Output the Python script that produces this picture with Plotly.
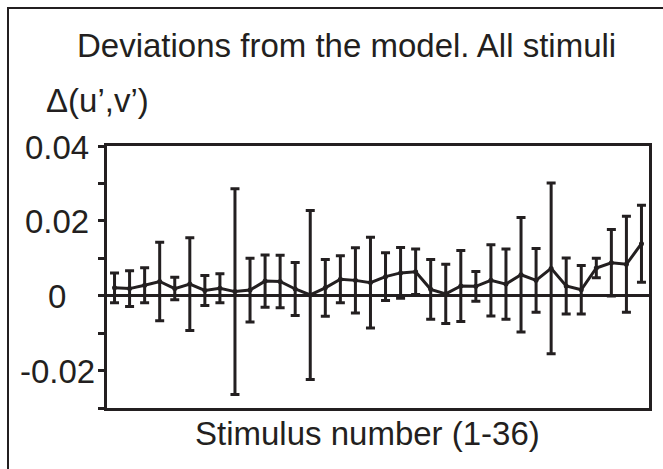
import plotly.graph_objects as go

stimulus = list(range(1, 37))
mean_dev = [0.0021, 0.0019, 0.0028, 0.0038, 0.0019, 0.0031, 0.0014, 0.0020, 0.0011, 0.0015,
            0.0039, 0.0038, 0.0018, 0.0002, 0.0021, 0.0044, 0.0041, 0.0035, 0.0051, 0.0061,
            0.0064, 0.0017, 0.0005, 0.0026, 0.0025, 0.0041, 0.0031, 0.0056, 0.0041, 0.0073,
            0.0026, 0.0016, 0.0074, 0.0088, 0.0084, 0.0139]
err_dev = [0.0040, 0.0048, 0.0047, 0.0105, 0.0030, 0.0124, 0.0040, 0.0039, 0.0275, 0.0085,
           0.0070, 0.0070, 0.0071, 0.0226, 0.0076, 0.0063, 0.0087, 0.0121, 0.0064, 0.0068,
           0.0061, 0.0080, 0.0079, 0.0095, 0.0040, 0.0095, 0.0094, 0.0153, 0.0085, 0.0228,
           0.0075, 0.0065, 0.0026, 0.0089, 0.0128, 0.0103]
ytick_vals = [-0.02, 0, 0.02, 0.04]
ytick_text = ["-0.02", "0", "0.02", "0.04"]

INK = "#231f20"
FONT = "Liberation Sans, Arial, sans-serif"
FS = 33

fig = go.Figure()
fig.add_trace(go.Scatter(
    x=stimulus, y=mean_dev, mode="lines+markers",
    line=dict(color=INK, width=3),
    marker=dict(color=INK, size=5),
    error_y=dict(type="data", array=err_dev, visible=True, color=INK, thickness=3, width=4.5),
    showlegend=False,
))

W, H = 663, 469
L, R, T, B = 107, 14, 146, 61
pw, ph = W - L - R, H - T - B

def px(x):
    return (x - L) / pw

def py(y):
    return (H - B - y) / ph

annotations = [
    dict(text="Deviations from the model. All stimuli", x=px(75), y=py(45),
         xref="paper", yref="paper", showarrow=False, xanchor="left", yanchor="middle",
         font=dict(size=FS, family=FONT, color=INK)),
    dict(text="\u0394(u\u2019,v\u2019)", x=px(44), y=py(100),
         xref="paper", yref="paper", showarrow=False, xanchor="left", yanchor="middle",
         font=dict(size=FS, family=FONT, color=INK)),
    dict(text="Stimulus number (1-36)", x=px(367), y=py(433),
         xref="paper", yref="paper", showarrow=False, xanchor="center", yanchor="middle",
         font=dict(size=FS, family=FONT, color=INK)),
]
for v, t in zip(ytick_vals, ytick_text):
    annotations.append(dict(text=t, x=px(57), y=v, xref="paper", yref="y",
                            showarrow=False, xanchor="center", yanchor="middle",
                            yshift=-1, font=dict(size=FS, family=FONT, color=INK)))

fig.update_layout(
    width=W, height=H,
    margin=dict(l=L, r=R, t=T, b=B),
    paper_bgcolor="white", plot_bgcolor="white",
    font=dict(family=FONT, color=INK, size=FS),
    xaxis=dict(range=[0.5, 36.5], showticklabels=False, ticks="", showgrid=False,
               showline=True, mirror=True, linecolor=INK, linewidth=2.5, zeroline=False),
    yaxis=dict(range=[-0.03, 0.04], tickvals=ytick_vals, showticklabels=False,
               ticks="outside", ticklen=6, tickwidth=2.5, tickcolor=INK,
               minor=dict(dtick=0.01, tick0=0, ticks="outside", ticklen=6, tickwidth=2.5, tickcolor=INK),
               showgrid=False, showline=True, mirror=True, linecolor=INK, linewidth=2.5,
               zeroline=True, zerolinecolor=INK, zerolinewidth=2.5),
    shapes=[dict(type="rect", xref="paper", yref="paper",
                 x0=px(8), x1=px(680), y0=py(490), y1=py(8),
                 line=dict(color=INK, width=2), layer="below")],
    annotations=annotations,
)

fig.write_html("out.html", config={"displayModeBar": False},
               post_script="document.body.style.margin='0';")
